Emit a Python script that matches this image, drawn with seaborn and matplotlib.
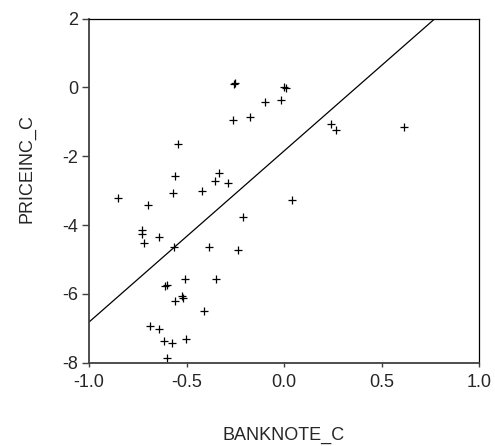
import numpy as np
import pandas as pd
from matplotlib import pyplot as plt
import seaborn as sns

# style first, fonts after (set_style resets font.family)
sns.set_style("white")
plt.rcParams["font.family"] = ["Liberation Sans", "DejaVu Sans"]
plt.rcParams["axes.unicode_minus"] = False

# values
banknote_c = [-0.257, -0.252, 0.000, 0.010, -0.017, -0.096, -0.173, -0.260,
              0.240, 0.265, 0.616, -0.543, -0.560, -0.332, -0.355, -0.286,
              -0.567, -0.421, -0.851, 0.043, -0.698, -0.209, -0.727, -0.730,
              -0.720, -0.640, -0.563, -0.385, -0.238, -0.508, -0.351, -0.610,
              -0.602, -0.522, -0.517, -0.561, -0.409, -0.688, -0.643, -0.614,
              -0.574, -0.503, -0.600]
priceinc_c = [0.10, 0.13, 0.00, -0.03, -0.37, -0.44, -0.87, -0.95,
              -1.07, -1.23, -1.16, -1.65, -2.57, -2.50, -2.72, -2.79,
              -3.08, -3.01, -3.21, -3.26, -3.43, -3.78, -4.15, -4.27,
              -4.51, -4.36, -4.65, -4.65, -4.73, -5.58, -5.58, -5.77,
              -5.73, -6.05, -6.13, -6.22, -6.49, -6.93, -7.01, -7.36,
              -7.42, -7.30, -7.86]

# fitted line
intercept = -1.85
slope = 4.97

x_ticks = [-1.0, -0.5, 0.0, 0.5, 1.0]
y_ticks = [-8, -6, -4, -2, 0, 2]

df = pd.DataFrame({"BANKNOTE_C": banknote_c, "PRICEINC_C": priceinc_c})

fig = plt.figure(figsize=(4.95, 4.46), dpi=100)
ax = fig.add_axes([0.1798, 0.1868, 0.7879, 0.7717])

sns.scatterplot(data=df, x="BANKNOTE_C", y="PRICEINC_C", marker="+",
                color="black", s=40, linewidth=0.9, ax=ax)
ax.axline((0, intercept), slope=slope, color="black", linewidth=0.9)

ax.set_xlim(-1.0, 1.0)
ax.set_ylim(-8, 2)
ax.set_xticks(x_ticks)
ax.set_xticklabels([f"{v:.1f}" for v in x_ticks])
ax.set_yticks(y_ticks)

for side in ["left", "bottom"]:
    ax.spines[side].set_color("#404040")
    ax.spines[side].set_linewidth(1.3)
for side in ["top", "right"]:
    ax.spines[side].set_color("black")
    ax.spines[side].set_linewidth(0.9)

ax.tick_params(axis="y", direction="out", length=5, width=1.0,
               color="#404040", labelsize=13, pad=3, left=True)
ax.tick_params(axis="x", direction="out", length=3, width=1.0,
               color="#404040", labelsize=13, pad=5, bottom=True)

ax.set_xlabel("BANKNOTE_C", fontsize=13)
ax.set_ylabel("PRICEINC_C", fontsize=13)
ax.xaxis.set_label_coords(0.5, -0.185)
ax.yaxis.set_label_coords(-0.136, 0.563)

fig.savefig("out.png", dpi=100)
